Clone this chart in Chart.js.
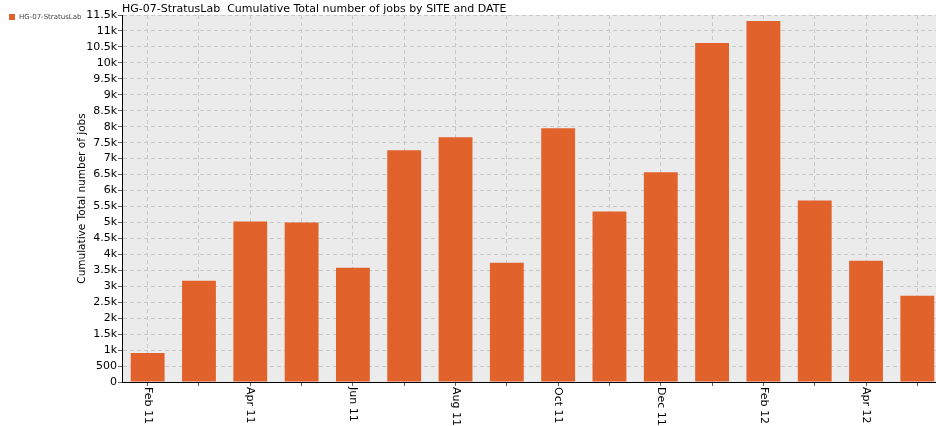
<!DOCTYPE html>
<html>
<head>
<meta charset="utf-8">
<script src="https://cdn.jsdelivr.net/npm/chart.js@4/dist/chart.umd.min.js"></script>
<style>
  html, body { margin: 0; padding: 0; background: #fff; overflow: hidden; }
</style>
</head>
<body>
<canvas id="jobsChart" width="945" height="426"></canvas>
<script>
// months shown on the x axis (every other one gets a label)
const months = ['Feb 11', 'Mar 11', 'Apr 11', 'May 11', 'Jun 11', 'Jul 11', 'Aug 11', 'Sep 11',
                'Oct 11', 'Nov 11', 'Dec 11', 'Jan 12', 'Feb 12', 'Mar 12', 'Apr 12', 'May 12'];
// cumulative jobs per month
const jobs = [910, 3170, 5030, 5000, 3580, 7260, 7670, 3740,
              7950, 5340, 6570, 10620, 11310, 5690, 3800, 2700];
const siteName = 'HG-07-StratusLab';
const chartTitle = 'HG-07-StratusLab  Cumulative Total number of jobs by SITE and DATE';
const yTitle = 'Cumulative Total number of jobs';

const barColor = '#e2622c';
const fontFamily = '"DejaVu Sans", Verdana, sans-serif';

// background, title, legend and rotated x labels
const decorations = {
    id: 'decorations',
    beforeDraw(chart) {
        const { ctx, chartArea } = chart;
        ctx.save();
        ctx.fillStyle = '#ebebeb';
        ctx.fillRect(chartArea.left, chartArea.top, chartArea.right - chartArea.left, chartArea.bottom - chartArea.top);
        ctx.restore();
    },
    afterDraw(chart) {
        const { ctx, chartArea } = chart;
        const xScale = chart.scales.x;
        ctx.save();

        // title
        ctx.fillStyle = '#000';
        ctx.font = '11px ' + fontFamily;
        ctx.textAlign = 'left';
        ctx.textBaseline = 'alphabetic';
        ctx.fillText(chartTitle, chartArea.left, 12);

        // legend
        const ds = chart.data.datasets[0];
        ctx.fillStyle = ds.backgroundColor;
        ctx.fillRect(9, 14, 6, 6);
        ctx.fillStyle = '#444';
        ctx.font = '7px ' + fontFamily;
        ctx.textBaseline = 'middle';
        ctx.fillText(ds.label, 19, 17.5);

        // x labels, rotated clockwise
        ctx.fillStyle = '#000';
        ctx.font = '11px ' + fontFamily;
        ctx.textAlign = 'left';
        ctx.textBaseline = 'middle';
        months.forEach((m, i) => {
            if (i % 2 !== 0) return;
            const x = xScale.getPixelForValue(i);
            ctx.save();
            ctx.translate(x, chartArea.bottom + 5);
            ctx.rotate(Math.PI / 2);
            ctx.fillText(m, 0, 0);
            ctx.restore();
        });
        ctx.restore();
    }
};

new Chart(document.getElementById('jobsChart'), {
    type: 'bar',
    data: {
        labels: months,
        datasets: [{
            label: siteName,
            data: jobs,
            backgroundColor: barColor,
            borderWidth: 0,
            barPercentage: 0.66,
            categoryPercentage: 1
        }]
    },
    options: {
        responsive: false,
        animation: false,
        devicePixelRatio: 1,
        layout: { padding: { left: 76, top: 15, right: 2, bottom: 0 } },
        plugins: {
            legend: { display: false },
            title: { display: false },
            tooltip: { enabled: false }
        },
        scales: {
            x: {
                grid: { offset: false, color: '#c8c8c8', tickLength: 4, tickColor: '#666' },
                border: { color: '#000', dash: [4, 3] },
                ticks: { display: false },
                afterFit(scale) { scale.height = 44; }
            },
            y: {
                min: 0,
                max: 11500,
                grid: { color: '#c8c8c8', tickLength: 4, tickColor: '#666' },
                border: { color: '#000', dash: [4, 3] },
                ticks: {
                    stepSize: 500,
                    autoSkip: false,
                    padding: 1,
                    color: '#000',
                    font: { family: fontFamily, size: 11 },
                    callback: v => v >= 1000 ? (v / 1000) + 'k' : v
                },
                title: {
                    display: true,
                    text: yTitle,
                    color: '#000',
                    font: { family: fontFamily, size: 10.5 },
                    padding: { top: 0, bottom: 2 }
                },
                afterFit(scale) { scale.width = 46; }
            }
        }
    },
    plugins: [decorations]
});
</script>
</body>
</html>
